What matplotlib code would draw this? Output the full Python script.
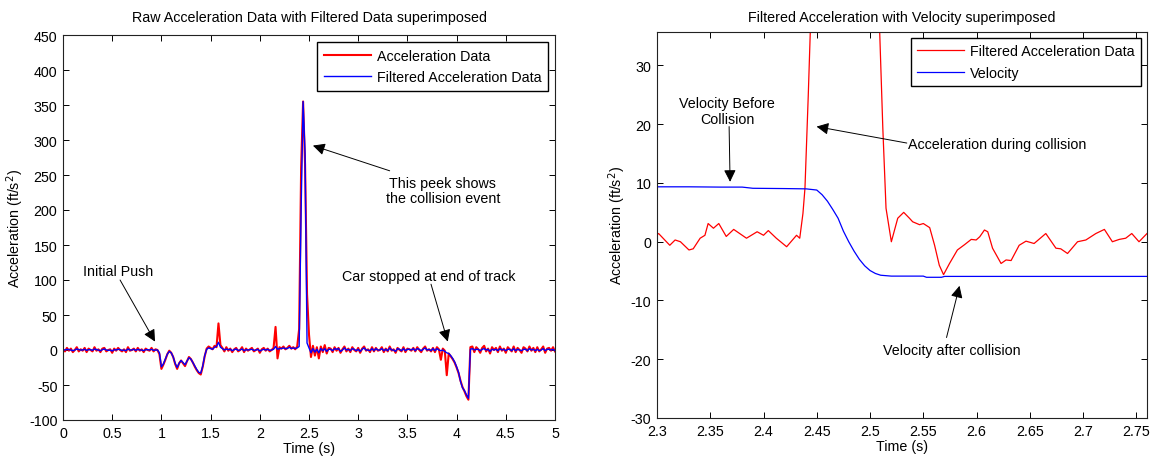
import numpy as np
import matplotlib
matplotlib.use('Agg')
import matplotlib.pyplot as plt

plt.rcParams['font.family'] = ['Liberation Sans', 'DejaVu Sans']
plt.rcParams['font.size'] = 10.3
plt.rcParams['axes.unicode_minus'] = False

# ---------- left plot: raw vs filtered acceleration ----------
t_raw = np.linspace(0, 5, 251)

raw_acc = [1, -2, 3, -1, 2, -3, 0, 4, -2, 1, -1, 3, -3, 2, 0, -2, 4, -1, 1, -3,
           2, 3, -2, 0, 1, -4, 2, -1, 3, 0, -2, 1, -3, 4, -1, 0, 2, -2, 3, -1,
           1, -3, 2, 0, -1, 3, -2, 1, 0,
           -6, -27, -21, -14, -6, -1, -4, -10, -20, -27, -19, -15, -19, -23, -16, -10,
           -13, -18, -24, -29, -33, -35, -24, -9, 2, 5, 3, 1, 6, 4, 38, 7,
           3, -2, 4, -1, 2, -3, 1, 3, -2, 0, 4, -3, 2, -1, 1, 3, -2, 0, 2, -4,
           1, 3, -1, 2, -2, 0, 3,
           33, -12, 4, 2, 5, 1, 3, 6, 2, 4, 1, 5,
           30, 260, 355, 265, 80,
           22, -10, 6, -8, 4, -12, 5, -3, 7, -5, 3,
           2, -3, 4, -1, 3, -4, 1, 5, -2, 2, -3, 4, 0, -2, 3, -4, 2, 5, -1, 1,
           -3, 4, -2, 3, -1, 0, 4, -3, 2, -2, 5, -1, 1, -4, 3, 0, -2, 4, -3, 2,
           1, -1, 3, -2, 4, 0, -3, 2, 5, -1, 1, -2, 3, -3, 4, 1,
           -14, 2, -1, -36, -5, -9, -13, -18, -25, -33, -44, -53, -59, -66, -71, 4,
           5, -3, 4, 1, -4, 3, 6, -2, 2, -5, 4, 0, 3, -3, 5, -1, 2, -4, 4, 1,
           -2, 5, -3, 3, 0, -4, 4, 2, -2, 5, -1, 3, -3, 4, -2, 1, 5, -4, 2, 3,
           -1, 4, -2]

filt_acc = [0.5, 0, 1, 0.5, 0, -1, 0, 1.5, 0.5, 0, 0, 1, -0.5, 0.5, 0.5, -0.5, 1.5, 0.5, 0, -1,
            0.5, 1.5, 0, -0.5, 0, -1.5, 0.5, 0, 1, 0.5, -0.5, 0, -1, 1.5, 0, 0, 1, -0.5, 1, 0,
            0, -1, 0.5, 0.5, 0, 1, -0.5, 0, 0,
            -4, -24, -20, -13, -6, -2, -4, -10, -19, -25, -19, -15, -18, -21, -16, -11,
            -13, -18, -23, -28, -32, -33, -23, -8, 1, 3, 2, 1, 4, 5, 11, 4,
            2, 0, 1.5, 0.5, 1, -1, 0.5, 1.5, -0.5, 0, 1.5, -1, 0.5, 0, 0.5, 1, -0.5, 0, 1, -1.5,
            0, 1, 0, 1, -0.5, 0, 1,
            5, 1, 2, 2, 3, 2, 2, 4, 2, 3, 2, 3,
            5, 200, 355, 280, 10,
            3, -4, 2, -3, 1, -4, 2, -1, 2, -2, 1,
            1, -1, 2, 1, 2, -2, 0, 3, 0, 1, -1, 2, 1, -1, 1, -2, 1, 3, 0, 0,
            -1, 2, -1, 2, 0, 0, 2, -1, 1, -1, 3, 0, 0, -2, 2, 1, -1, 2, -1, 1,
            1, 0, 2, -1, 2, 1, -1, 1, 3, 0, 1, -1, 2, -1, 2, 0,
            -1, 0, -2, -4, -5, -8, -12, -17, -24, -32, -45, -54, -58, -64, -69, 1,
            2, 0, 1, 1, -1, 1, 2, 0, 1, -2, 1, 0, 1, -1, 2, 0, 1, -1, 1, 1,
            -1, 2, -1, 1, 0, -1, 1, 1, -1, 2, 0, 1, -1, 1, -1, 0, 2, -1, 1, 1,
            0, 1, -1]

# ---------- right plot: filtered acceleration and velocity ----------
t_vel = [2.30, 2.33, 2.36, 2.38, 2.39, 2.42, 2.44, 2.45, 2.455, 2.46, 2.465, 2.47,
         2.475, 2.48, 2.485, 2.49, 2.495, 2.50, 2.505, 2.51, 2.52, 2.55, 2.553,
         2.567, 2.57, 2.60, 2.65, 2.70, 2.76]
velocity = [9.35, 9.35, 9.3, 9.3, 9.1, 9.05, 9.0, 8.8, 8.0, 6.9, 5.5, 4.0,
            1.8, 0.0, -1.6, -3.0, -4.1, -4.9, -5.4, -5.7, -5.85, -5.85, -6.05,
            -6.05, -5.9, -5.9, -5.9, -5.9, -5.9]

t_facc = [2.300, 2.3015, 2.312, 2.317, 2.322, 2.330, 2.334, 2.3405, 2.345, 2.348,
          2.353, 2.358, 2.365, 2.372, 2.384, 2.394, 2.400, 2.4045, 2.412, 2.4217,
          2.431, 2.434, 2.437, 2.4389, 2.442, 2.444, 2.450, 2.460, 2.470, 2.480,
          2.490, 2.500, 2.509, 2.512, 2.515, 2.520, 2.526, 2.5316, 2.537, 2.540,
          2.5465, 2.550, 2.556, 2.5606, 2.565, 2.569, 2.5746, 2.582, 2.5887, 2.595,
          2.5996, 2.603, 2.6074, 2.6105, 2.615, 2.623, 2.6277, 2.6324, 2.640, 2.6464,
          2.654, 2.665, 2.6745, 2.679, 2.6854, 2.6948, 2.7026, 2.712, 2.720, 2.7275,
          2.734, 2.740, 2.7457, 2.7525, 2.760]
facc = [1.2, 1.4, -0.6, 0.3, 0, -1.4, -1.2, 0.6, 1.1, 3.1,
        2.3, 3.1, 0.9, 2.1, 0.6, 1.7, 1.1, 1.9, 0.6, -0.85,
        1.1, 0.6, 4.8, 9.1, 24.9, 36.3, 90, 250, 350, 320,
        200, 90, 36, 19.3, 5.7, 0, 4.0, 5.0, 4.0, 3.4,
        2.9, 3.1, 2.4, -0.6, -4.0, -5.6, -3.7, -1.4, -0.5, 0.4,
        0.3, 0.85, 2.0, 1.7, -1.1, -3.7, -3.1, -3.2, -0.6, 0.1,
        -0.3, 1.4, -1.1, -1.2, -2.0, 0, 0.3, 1.4, 2.1, 0,
        0.4, 0.6, 1.4, 0, 1.4]

W, H = 1154, 460
fig = plt.figure(figsize=(W / 100, H / 100), dpi=100)
ax1 = fig.add_axes([63 / W, (H - 421) / H, (555 - 63) / W, (421 - 36) / H])
ax2 = fig.add_axes([657 / W, (H - 419) / H, (1147 - 657) / W, (419 - 33) / H])

arrow = dict(arrowstyle='-|>', color='black', lw=0.7, mutation_scale=18,
             shrinkA=0, shrinkB=0)
leg_kw = dict(loc='upper right', fancybox=False, edgecolor='black', framealpha=1,
              handlelength=3.3, handletextpad=0.4, borderpad=0.45, labelspacing=0.55)

# left
ax1.plot(t_raw, raw_acc, color='red', lw=1.5, label='Acceleration Data')
ax1.plot(t_raw, filt_acc, color='blue', lw=1.0, label='Filtered Acceleration Data')
ax1.set_xlim(0, 5)
ax1.set_ylim(-100, 450)
ax1.set_xticks(np.arange(0, 5.01, 0.5))
ax1.set_xticklabels(['0', '0.5', '1', '1.5', '2', '2.5', '3', '3.5', '4', '4.5', '5'])
ax1.set_yticks(np.arange(-100, 451, 50))
ax1.set_title('Raw Acceleration Data with Filtered Data superimposed', fontsize=10.3, pad=10)
ax1.set_xlabel('Time (s)', labelpad=1)
ax1.set_ylabel('Acceleration (ft/s$^2$)', labelpad=2)
ax1.legend(borderaxespad=0.5, **leg_kw)

ax1.text(0.56, 113, 'Initial Push', ha='center', va='center')
ax1.annotate('', xy=(0.935, 12), xytext=(0.58, 100), arrowprops=arrow)
ax1.text(3.86, 228, 'This peek shows\nthe collision event', ha='center', va='center',
         linespacing=1.15)
ax1.annotate('', xy=(2.54, 292), xytext=(3.32, 256), arrowprops=arrow)
ax1.text(3.72, 106, 'Car stopped at end of track', ha='center', va='center')
ax1.annotate('', xy=(3.91, 12), xytext=(3.74, 94), arrowprops=arrow)

# right
ax2.plot(t_facc, facc, color='red', lw=0.9, label='Filtered Acceleration Data')
ax2.plot(t_vel, velocity, color='blue', lw=0.9, label='Velocity')
ax2.set_xlim(2.3, 2.76)
ax2.set_ylim(-30, 35.7)
ax2.set_xticks(np.arange(2.3, 2.751, 0.05))
ax2.set_xticklabels(['2.3', '2.35', '2.4', '2.45', '2.5', '2.55', '2.6', '2.65', '2.7', '2.75'])
ax2.set_yticks(np.arange(-30, 31, 10))
ax2.set_title('Filtered Acceleration with Velocity superimposed', fontsize=10.3, pad=8)
ax2.set_xlabel('Time (s)', labelpad=1)
ax2.set_ylabel('Acceleration (ft/s$^2$)', labelpad=2)
ax2.legend(borderaxespad=0.4, **leg_kw)

ax2.text(2.366, 22.3, 'Velocity Before\nCollision', ha='center', va='center',
         linespacing=1.15)
ax2.annotate('', xy=(2.3686, 10.2), xytext=(2.3677, 19.6), arrowprops=arrow)
ax2.text(2.5356, 16.7, 'Acceleration during collision', ha='left', va='center')
ax2.annotate('', xy=(2.4498, 19.6), xytext=(2.5345, 16.8), arrowprops=arrow)
ax2.text(2.5765, -18.5, 'Velocity after collision', ha='center', va='center')
ax2.annotate('', xy=(2.584, -7.5), xytext=(2.5718, -16.3), arrowprops=arrow)

for ax in (ax1, ax2):
    ax.tick_params(direction='in', top=True, right=True, length=4, width=0.7,
                   labelsize=10.3, pad=4)
    for s in ax.spines.values():
        s.set_linewidth(0.8)
        s.set_color('#222222')

fig.savefig('out.png', dpi=100)
